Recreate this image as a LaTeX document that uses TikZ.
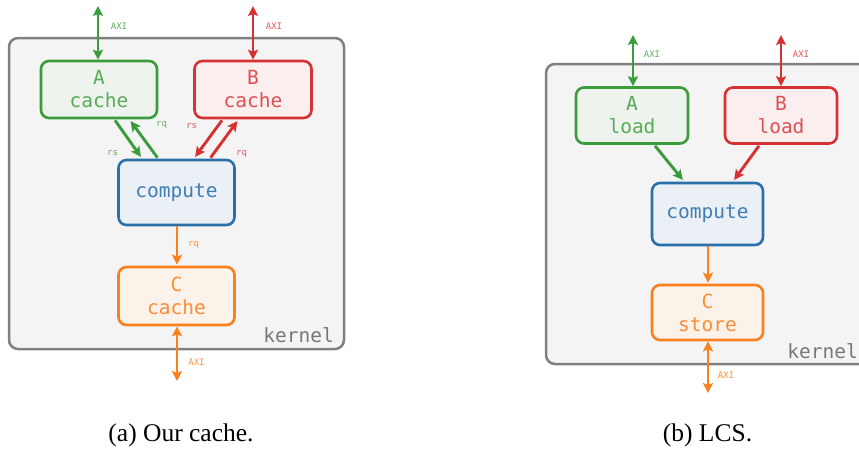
\documentclass[tikz,border=0pt]{standalone}
\usepackage{fontspec}
\setmainfont{Liberation Serif}
\setmonofont{DejaVu Sans Mono}
\usetikzlibrary{arrows.meta,calc}

% palette
\definecolor{cgreen}{RGB}{58,156,58}
\definecolor{cred}{RGB}{214,50,52}
\definecolor{cblue}{RGB}{44,112,170}
\definecolor{corange}{RGB}{250,128,30}
\definecolor{fgreen}{RGB}{238,243,238}
\definecolor{fred}{RGB}{251,238,238}
\definecolor{fblue}{RGB}{234,240,246}
\definecolor{forange}{RGB}{251,242,234}
\definecolor{kfill}{RGB}{244,244,244}
\definecolor{kline}{RGB}{128,128,128}
\definecolor{ktext}{RGB}{120,120,120}

\tikzset{
  kernelbox/.style={draw=kline, fill=kfill, line width=2.5pt, rounded corners=9pt},
  unit/.style={rounded corners=8pt, line width=2.6pt, align=center, inner sep=0pt,
    font=\ttfamily\fontsize{19.5}{23}\selectfont},
  greenbox/.style={unit, draw=cgreen, fill=fgreen, text=cgreen!85},
  redbox/.style={unit, draw=cred, fill=fred, text=cred!85},
  bluebox/.style={unit, draw=cblue, fill=fblue, text=cblue!90},
  orangebox/.style={unit, draw=corange, fill=forange, text=corange!90},
  tip/.style={Stealth[length=10pt,width=10pt,inset=2pt]},
  link/.style={line width=2.9pt, -{Stealth[length=10pt,width=10pt,inset=2pt]}, shorten >=1pt},
  duplex/.style={line width=2.9pt, {Stealth[length=10pt,width=10pt,inset=2pt]}-{Stealth[length=10pt,width=10pt,inset=2pt]}},
  tag/.style={font=\ttfamily\fontsize{9}{10}\selectfont, inner sep=0pt},
  ktag/.style={font=\ttfamily\fontsize{19.5}{23}\selectfont, text=ktext, inner sep=0pt},
  caption/.style={font=\fontsize{25.5}{30}\selectfont, inner sep=0pt}
}

\begin{document}
\begin{tikzpicture}[x=1pt,y=-1pt]
\useasboundingbox (0,0) rectangle (859,451);
\clip (0,0) rectangle (859,451);

% ---------------- (a) with caches ----------------
\draw[kernelbox] (9,38) rectangle (344,349);
\node[ktag, anchor=east] (ka) at (334,335) {kernel};

\node[greenbox, minimum width=116pt, minimum height=57pt] (Aa) at (99,89.5) {A\\cache};
\node[redbox, minimum width=117pt, minimum height=57pt] (Ba) at (253,89.5) {B\\cache};
\node[bluebox, minimum width=116pt, minimum height=65pt] (Pa) at (176.5,192.5) {compute};
\node[orangebox, minimum width=116pt, minimum height=58pt] (Ca) at (176.5,296) {C\\cache};

% external ports
\coordinate (Aatop) at (98,6);
\coordinate (Batop) at (253,6);
\coordinate (Cabot) at (177,381);
\draw[duplex, cgreen] (Aatop) -- (Aatop |- Aa.north);
\draw[duplex, cred] (Batop) -- (Batop |- Ba.north);
\draw[duplex, corange] (Cabot |- Ca.south) -- (Cabot);
\node[tag, text=cgreen!80] (axa1) at (119,26) {AXI};
\node[tag, text=cred!80] (axa2) at (274,26) {AXI};
\node[tag, text=corange!85] (axa3) at (196.5,362) {AXI};

% request / response channels
\draw[link, cgreen] ($(Aa.south)+(16,1)$) -- ($(Pa.north)+(-35,-1)$);
\draw[link, cgreen] ($(Pa.north)+(-19,-1)$) -- ($(Aa.south)+(31,1)$);
\draw[link, cred] ($(Ba.south)+(-31,1)$) -- ($(Pa.north)+(18,-1)$);
\draw[link, cred] ($(Pa.north)+(34,-1)$) -- ($(Ba.south)+(-15,1)$);
\draw[link, corange] (Pa.south -| Cabot) -- (Ca.north -| Cabot);

\node[tag, text=cgreen!80] (rs1) at (112.5,153.5) {rs};
\node[tag, text=cgreen!80] (rq1) at (161.5,125) {rq};
\node[tag, text=cred!80] (rs2) at (191.5,126.5) {rs};
\node[tag, text=cred!80] (rq2) at (241.5,153.5) {rq};
\node[tag, text=corange!85] (rq3) at (193.5,245) {rq};

\node[caption] (capa) at (181,435) {(a) Our cache.};

% ---------------- (b) LCS ----------------
\draw[kernelbox] (546,64) rectangle (890,364);
\node[ktag, anchor=east] (kb) at (858,351) {kernel};

\node[greenbox, minimum width=112pt, minimum height=56pt] (Ab) at (632,115.5) {A\\load};
\node[redbox, minimum width=112pt, minimum height=56pt] (Bb) at (781,115.5) {B\\load};
\node[bluebox, minimum width=111pt, minimum height=62pt] (Pb) at (707.5,214) {compute};
\node[orangebox, minimum width=111pt, minimum height=55pt] (Cb) at (707.5,312.5) {C\\store};

\coordinate (Abtop) at (633,35);
\coordinate (Bbtop) at (781,35);
\coordinate (Cbbot) at (708,393);
\draw[duplex, cgreen] (Abtop) -- (Abtop |- Ab.north);
\draw[duplex, cred] (Bbtop) -- (Bbtop |- Bb.north);
\draw[duplex, corange] (Cbbot |- Cb.south) -- (Cbbot);
\node[tag, text=cgreen!80] (axb1) at (652,54) {AXI};
\node[tag, text=cred!80] (axb2) at (801,54) {AXI};
\node[tag, text=corange!85] (axb3) at (726,375) {AXI};

\draw[link, cgreen] ($(Ab.south)+(23,1)$) -- ($(Pb.north)+(-24,-1)$);
\draw[link, cred] ($(Bb.south)+(-22,1)$) -- ($(Pb.north)+(26,-1)$);
\draw[link, corange] (Pb.south -| Cbbot) -- (Cb.north -| Cbbot);

\node[caption] (capb) at (707.5,435) {(b) LCS.};
\end{tikzpicture}
\end{document}
